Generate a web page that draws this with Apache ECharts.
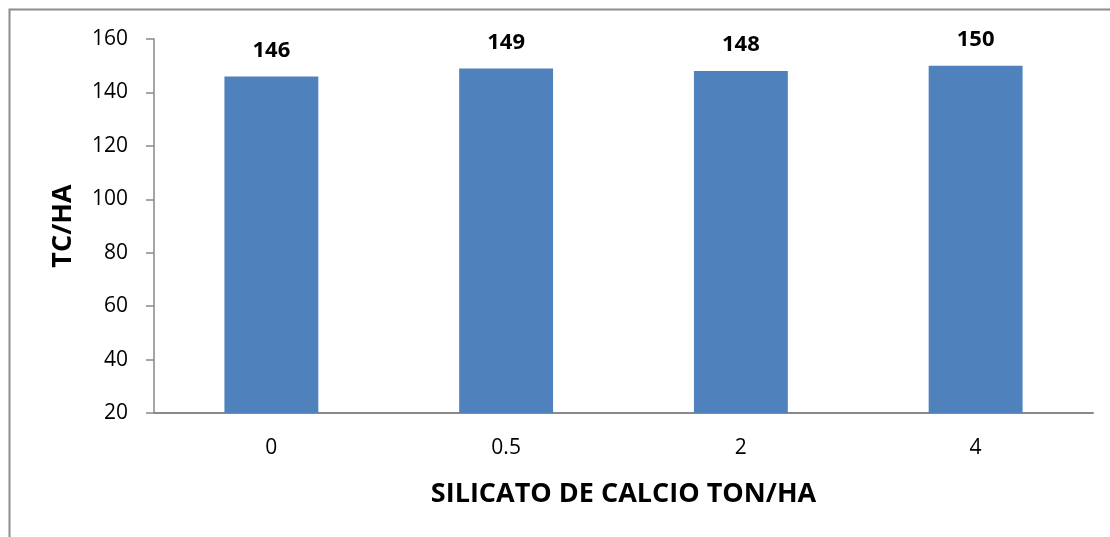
<!DOCTYPE html>
<html>
<head>
<meta charset="utf-8">
<script src="https://cdn.jsdelivr.net/npm/echarts@6/dist/echarts.min.js"></script>
<style>html,body{margin:0;padding:0;background:#fff}#c{width:1110px;height:537px}</style>
</head>
<body>
<div id="c"></div>
<script>
const categories = ['0', '0.5', '2', '4'];
const values = [146, 149, 148, 150];
const yTicks = { min: 20, max: 160, interval: 20 };
const xTitle = 'SILICATO DE CALCIO TON/HA';
const yTitle = 'TC/HA';

const font = '"Open Sans", "Noto Sans", sans-serif';
const chart = echarts.init(document.getElementById('c'), null, { renderer: 'canvas' });
chart.setOption({
  animation: false,
  backgroundColor: '#fff',
  graphic: [{
    type: 'rect', silent: true,
    shape: { x: 9.5, y: 9.5, width: 1300, height: 900 },
    style: { fill: 'none', stroke: '#8c8c8c', lineWidth: 2 }
  }],
  grid: { left: 154, right: 17, top: 39, bottom: 124, containLabel: false },
  xAxis: {
    type: 'category',
    data: categories,
    name: xTitle,
    nameLocation: 'middle',
    nameGap: 68,
    nameTextStyle: { fontFamily: font, fontSize: 27, fontWeight: 'bold', color: '#000' },
    axisLine: { show: true, lineStyle: { color: '#898989', width: 2 } },
    axisTick: { show: false },
    axisLabel: { fontFamily: font, fontSize: 21, color: '#000', margin: 25 }
  },
  yAxis: {
    type: 'value',
    min: yTicks.min, max: yTicks.max, interval: yTicks.interval,
    name: yTitle,
    nameLocation: 'middle',
    nameGap: 77,
    nameRotate: 90,
    nameTextStyle: { fontFamily: font, fontSize: 27, fontWeight: 'bold', color: '#000' },
    axisLine: { show: true, lineStyle: { color: '#898989', width: 1.5 } },
    axisTick: { show: true, length: 8, lineStyle: { color: '#898989', width: 1.5 } },
    splitLine: { show: false },
    axisLabel: { fontFamily: font, fontSize: 21, color: '#000', margin: 26 }
  },
  series: [{
    type: 'bar',
    data: values,
    barWidth: '40%',
    itemStyle: { color: '#4F81BD' },
    label: {
      show: true, position: 'top', distance: 15,
      fontFamily: font, fontSize: 22, fontWeight: 'bold', color: '#000'
    }
  }]
});
</script>
</body>
</html>
